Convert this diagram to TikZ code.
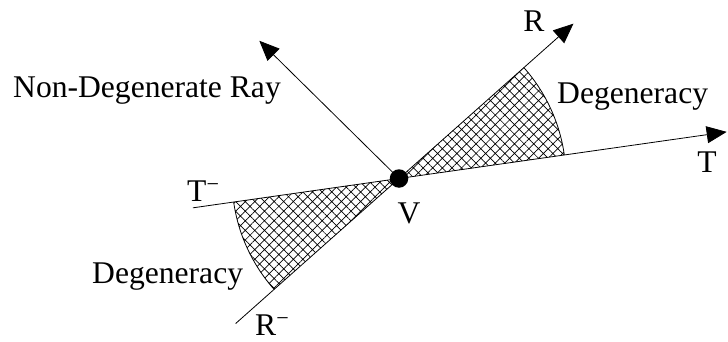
\documentclass[tikz,border=0pt]{standalone}
\usepackage{fontspec}
\setmainfont{Liberation Serif}
\usetikzlibrary{arrows.meta,patterns.meta,calc}
\begin{document}
\begin{tikzpicture}[x=1pt,y=1pt,
  lbl/.style={font=\fontsize{31.6}{37}\selectfont, inner sep=0pt},
  ray/.style={line width=0.8pt},
  arr/.style={ray,-{Triangle[length=20pt,width=17pt]}},
  hatch/.style={pattern={Hatch[angle=45,distance=6.8pt,line width=0.7pt]}}]
\useasboundingbox (0,0) rectangle (728,341);
\coordinate (v) at (399,162.5);
\path (v) ++(41.6:233.3pt) coordinate (Rt);
\path (v) ++(221.6:218.4pt) coordinate (Rm);
\path (v) ++(8.1:331pt) coordinate (Tt);
\path (v) ++(188.1:208.2pt) coordinate (Tm);
\path (v) ++(135.4:196.2pt) coordinate (N);
\path (v) ++(8.1:167pt) coordinate (u1);
\path (v) ++(188.1:167pt) coordinate (l1);
% degeneracy wedges
\fill[hatch] (v) -- (u1) arc[start angle=8.1,end angle=41.6,radius=167pt] -- cycle;
\draw[ray] (u1) arc[start angle=8.1,end angle=41.6,radius=167pt];
\fill[hatch] (v) -- (l1) arc[start angle=188.1,end angle=221.6,radius=167pt] -- cycle;
\draw[ray] (l1) arc[start angle=188.1,end angle=221.6,radius=167pt];
% rays
\draw[arr] (Rm) -- (Rt);
\draw[arr] (Tm) -- (Tt);
\draw[arr] (v) -- (N);
\node[circle,fill,minimum size=18.5pt,inner sep=0pt] (V) at (v) {};
% labels
\node[lbl,anchor=base] (lR) at (534,309) {R};
\node[lbl,anchor=base west] (lD1) at (557,238) {Degeneracy};
\node[lbl,anchor=base] (lT) at (707,169) {T};
\node[lbl,anchor=base west] (lN) at (13,244) {Non-Degenerate Ray};
\node[lbl,anchor=base west] (lTm) at (187,140) {T\textsuperscript{−}};
\node[lbl,anchor=base] (lV) at (409,118) {V};
\node[lbl,anchor=base west] (lD2) at (92,58) {Degeneracy};
\node[lbl,anchor=base west] (lRm) at (255,6) {R\textsuperscript{−}};
\end{tikzpicture}
\end{document}
